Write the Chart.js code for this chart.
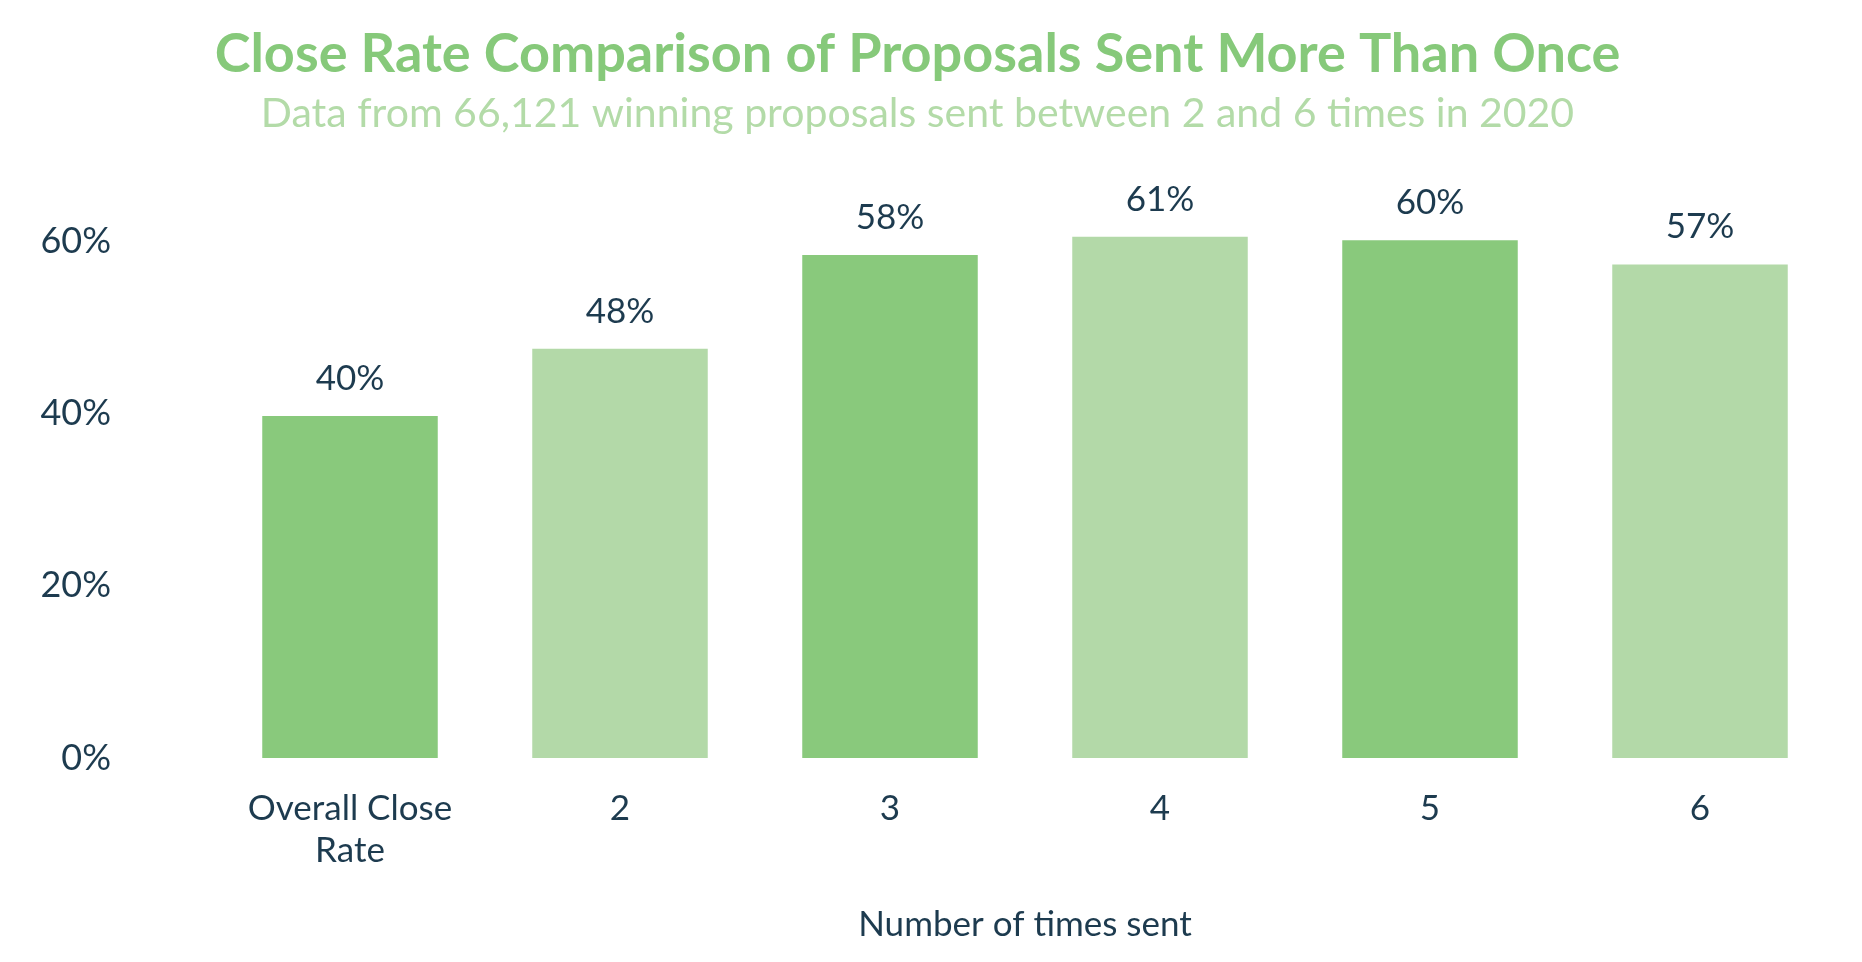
<!DOCTYPE html>
<html><head><meta charset="utf-8">
<script src="https://cdn.jsdelivr.net/npm/chart.js@4"></script>
<style>html,body{margin:0;padding:0;background:#fff}#w{width:1862px;height:962px}</style>
</head><body><div id="w"><canvas id="c"></canvas></div>
<script>
const categories = [["Overall Close","Rate"],"2","3","4","5","6"];
const values = [39.7, 47.5, 58.4, 60.5, 60.1, 57.3];
const valueLabels = ["40%","48%","58%","61%","60%","57%"];
const barColors = ["#89c97c","#b3d9a8","#89c97c","#b3d9a8","#89c97c","#b3d9a8"];
const yTicks = [0,20,40,60];
const navy = "#1d3b4f";
const FONT = "Lato, 'Open Sans', sans-serif";

const labelPlugin = {
  id:'vl',
  afterDatasetsDraw(chart){
    const ctx = chart.ctx, meta = chart.getDatasetMeta(0);
    ctx.save();
    ctx.font = "35px " + FONT; ctx.fillStyle = navy;
    ctx.textAlign = "center"; ctx.textBaseline = "bottom";
    meta.data.forEach((b,i)=>ctx.fillText(valueLabels[i], b.x, b.y - 20));
    ctx.restore();
  }
};

new Chart(document.getElementById('c'), {
  type:'bar',
  data:{labels:categories, datasets:[{data:values, backgroundColor:barColors, categoryPercentage:0.65, barPercentage:1}]},
  plugins:[labelPlugin],
  options:{
    responsive:true, maintainAspectRatio:false, animation:false,
    layout:{padding:{left:0,right:27,top:0,bottom:12}},
    plugins:{
      legend:{display:false}, tooltip:{enabled:false},
      title:{display:true, text:"Close Rate Comparison of Proposals Sent More Than Once", color:"#86c97a",
        font:{family:FONT, size:54, weight:'bold'}, padding:{top:22,bottom:2}},
      subtitle:{display:true, text:"Data from 66,121 winning proposals sent between 2 and 6 times in 2020", color:"#b3dba8",
        font:{family:FONT, size:41}, padding:{top:0,bottom:17}}
    },
    scales:{
      x:{grid:{display:false, drawTicks:false}, border:{display:false},
        ticks:{color:navy, font:{family:FONT,size:35}, padding:30},
        title:{display:true, text:"Number of times sent", color:navy, font:{family:FONT,size:35}, padding:{top:2}}},
      y:{min:0, max:70, grid:{display:false, drawTicks:false}, border:{display:false},
        afterBuildTicks(s){ s.ticks = yTicks.map(v=>({value:v})); },
        afterFit(s){ s.width = 215; },
        ticks:{color:navy, font:{family:FONT,size:36}, padding:104, callback:v=>v+"%"}}
    }
  }
});
</script></body></html>
